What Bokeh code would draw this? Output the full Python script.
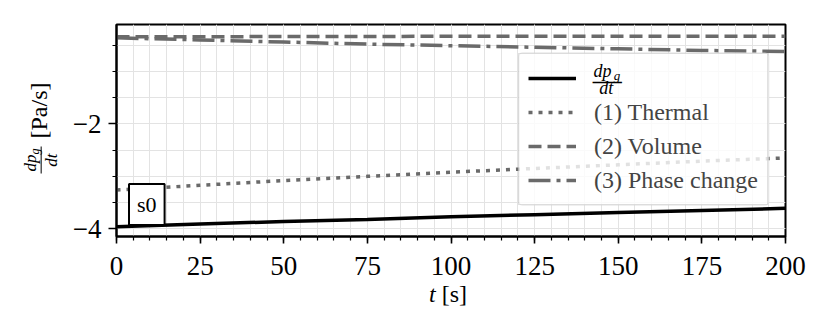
from bokeh.plotting import figure
from bokeh.models import (Range1d, SingleIntervalTicker, Legend, LegendItem, Label,
                          CustomJSTickFormatter, BoxAnnotation, Div)
from bokeh.layouts import row, column
from bokeh.embed import file_html
from bokeh.resources import INLINE

# ---- data ----
t = [0, 25, 50, 75, 100, 125, 150, 175, 200]
total = [-3.96, -3.91, -3.86, -3.82, -3.77, -3.73, -3.69, -3.65, -3.61]
thermal = [-3.26, -3.17, -3.08, -3.00, -2.92, -2.85, -2.78, -2.71, -2.65]
volume = [-0.34, -0.34, -0.335, -0.335, -0.33, -0.33, -0.33, -0.33, -0.33]
phase = [-0.36, -0.40, -0.44, -0.48, -0.51, -0.54, -0.57, -0.60, -0.62]
labels = ["(1) Thermal", "(2) Volume", "(3) Phase change"]
x_label_var, x_label_unit = "t", "[s]"
y_label_num, y_label_sub, y_label_den, y_label_unit = "dp", "g", "dt", "[Pa/s]"

SERIF = "Liberation Serif"
GRAY = "#6a6a6a"

p = figure(width=756, height=286, output_backend="svg", toolbar_location=None,
           x_range=Range1d(0, 200), y_range=Range1d(-4.146, -0.106),
           min_border_left=52, min_border_right=35, min_border_top=24,
           min_border_bottom=50, margin=0)
p.background_fill_color = "white"
p.border_fill_color = "white"
p.outline_line_color = "black"
p.outline_line_width = 2

p.xaxis.ticker = SingleIntervalTicker(interval=25, num_minor_ticks=5)
p.yaxis.ticker = SingleIntervalTicker(interval=2, num_minor_ticks=4)
p.yaxis.formatter = CustomJSTickFormatter(
    code='return (tick < 0 ? "\u2212" : "") + Math.abs(tick).toString();')
for ax in (p.xaxis[0], p.yaxis[0]):
    ax.axis_line_width = 2
    ax.axis_line_color = "black"
    ax.major_tick_line_width = 1.6
    ax.minor_tick_line_width = 1.2
    ax.major_tick_in = 0
    ax.minor_tick_in = 0
    ax.minor_tick_out = 4
    ax.major_label_text_font = SERIF
    ax.major_label_text_font_size = "27px"
    ax.major_label_text_color = "black"
p.xaxis.major_tick_out = 7
p.xaxis.major_label_standoff = 13
p.yaxis.major_tick_out = 8
p.yaxis.major_label_standoff = 7

for g in (p.xgrid[0], p.ygrid[0]):
    g.grid_line_color = "#e3e3e3"
    g.grid_line_width = 1
    g.minor_grid_line_color = "#e3e3e3"
    g.minor_grid_line_width = 1

r0 = p.line(t, total, line_color="black", line_width=3.5)
r1 = p.line(t, thermal, line_color=GRAY, line_width=3.5, line_dash="4 6")
r2 = p.line(t, volume, line_color=GRAY, line_width=3.5, line_dash="13 6")
r3 = p.line(t, phase, line_color=GRAY, line_width=3.5, line_dash="22 6 4 6")

# legend background (semi-transparent white box)
p.add_layout(BoxAnnotation(left=120.27, right=195.0, top=-0.645, bottom=-3.55,
                           fill_color="white", fill_alpha=0.8,
                           line_color="#bdbdbd", line_width=1.2, border_radius=4))


def lab(x, y, text, size, style="normal"):
    p.add_layout(Label(x=x, y=y, text=text, text_font=SERIF, text_font_size=size,
                       text_font_style=style, text_align="center",
                       text_baseline="middle", text_color="black"))


# fraction label of the first legend entry
lab(145.3, -0.985, y_label_num, "18px", "italic")
lab(149.6, -1.075, y_label_sub, "13px", "italic")
lab(146.7, -1.160, "\u2014", "29px")
lab(146.4, -1.318, y_label_den, "18px", "italic")

legend = Legend(items=[LegendItem(label=" ", renderers=[r0]),
                       LegendItem(label=labels[0], renderers=[r1]),
                       LegendItem(label=labels[1], renderers=[r2]),
                       LegendItem(label=labels[2], renderers=[r3])],
                location=(402, 31), margin=0, padding=9, spacing=4,
                glyph_width=48, glyph_height=30, label_height=30, label_standoff=18,
                label_text_font=SERIF, label_text_font_size="24px",
                border_line_color="#c4c4c4", border_line_width=1.2,
                background_fill_alpha=0)
p.add_layout(legend)

# s0 box
p.add_layout(Label(x=9.06, y=-3.535, text="s0", text_font=SERIF, text_font_size="22px",
                   text_align="center", text_baseline="middle", text_color="black",
                   border_line_color="black", border_line_width=2,
                   background_fill_color="white", padding=8))

# y axis label: rotated, with a real fraction
ytxt = (
    '<div style="position:relative;width:64px;height:286px;">'
    '<div style="position:absolute;left:41px;top:128px;'
    'transform:translate(-50%,-50%) rotate(-90deg);white-space:nowrap;'
    "font-family:'Liberation Serif';font-size:24px;line-height:1;color:#000;\">"
    '<span style="display:inline-block;vertical-align:middle;text-align:center;'
    'font-style:italic;font-size:17px;line-height:1.05;">'
    '<span style="display:block;border-bottom:1.3px solid #000;padding:0 2px 1px 2px;">'
    f'{y_label_num}<span style="font-size:12px;position:relative;top:3px;">{y_label_sub}</span></span>'
    f'<span style="display:block;padding-top:1px;">{y_label_den}</span>'
    '</span><span style="display:inline-block;width:8px;"></span>'
    f'{y_label_unit}</div></div>'
)
ydiv = Div(text=ytxt, width=64, height=286, margin=0)

xtxt = (
    '<div style="position:relative;width:820px;height:36px;">'
    '<div style="position:absolute;left:448px;top:-4px;transform:translate(-50%,0);'
    "white-space:nowrap;font-family:'Liberation Serif';font-size:24px;line-height:1;color:#000;\">"
    f'<i>{x_label_var}</i>&nbsp;{x_label_unit}</div></div>'
)
xdiv = Div(text=xtxt, width=820, height=36, margin=0)

layout = column(row(ydiv, p, spacing=0), xdiv, spacing=0)

open("out.html", "w").write(file_html(layout, INLINE))
